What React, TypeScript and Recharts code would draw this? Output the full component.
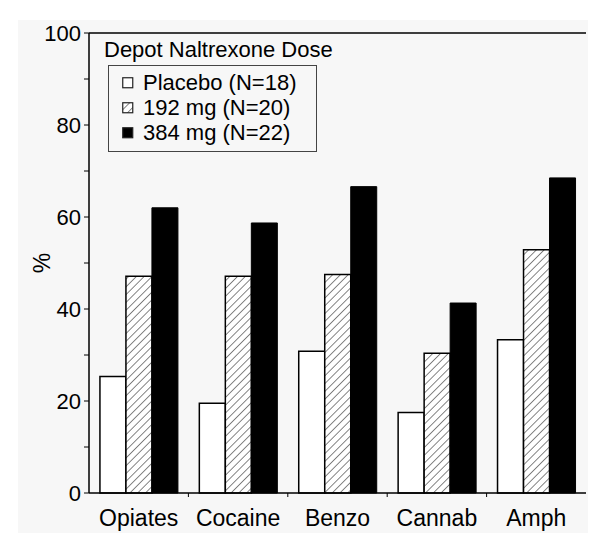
import React from "react";
import { Bar, BarChart, Legend, ReferenceLine, XAxis, YAxis } from "recharts";

const drugs = ["Opiates", "Cocaine", "Benzo", "Cannab", "Amph"];
const placebo = [25.3, 19.5, 30.8, 17.5, 33.3];
const mg192 = [47.1, 47.1, 47.5, 30.4, 52.9];
const mg384 = [62.0, 58.7, 66.6, 41.3, 68.5];
const yTicks = [0, 10, 20, 30, 40, 50, 60, 70, 80, 90, 100];
const seriesOrder = ["placebo", "mg192", "mg384"];

const data = drugs.map((drug, i) => ({
  drug,
  placebo: placebo[i],
  mg192: mg192[i],
  mg384: mg384[i],
}));

const FONT = "'Liberation Sans', Arial, sans-serif";

const XTick = (props: any) => {
  const { x, y, payload, index } = props;
  const half = payload?.offset ?? 0;
  return (
    <g>
      {index < drugs.length - 1 && (
        <line x1={x + half} x2={x + half} y1={y - 8} y2={y - 4} stroke="#000" />
      )}
      <text x={x} y={y + 25} textAnchor="middle" fontSize={23} fontFamily={FONT} fill="#000">
        {payload.value}
      </text>
    </g>
  );
};

const markerFill: Record<string, string> = {
  placebo: "#fff",
  mg192: "url(#hatch)",
  mg384: "#000",
};

const LegendBox = (props: any) => {
  const items = [...(props.payload || [])].sort(
    (a: any, b: any) => seriesOrder.indexOf(a.dataKey) - seriesOrder.indexOf(b.dataKey)
  );
  return (
    <div style={{ fontFamily: FONT, color: "#000" }}>
      <div style={{ fontSize: 22, lineHeight: "24px", whiteSpace: "nowrap" }}>Depot Naltrexone Dose</div>
      <div
        style={{
          marginTop: 3,
          marginLeft: 4,
          border: "1.5px solid #444",
          width: 209,
          padding: "4px 0 6px 13px",
          boxSizing: "border-box",
        }}
      >
        {items.map((it: any) => (
          <div key={it.dataKey} style={{ display: "flex", alignItems: "center", height: 25, fontSize: 22 }}>
            <svg width={12} height={12} style={{ marginRight: 9 }}>
              <rect x={0.75} y={0.75} width={10} height={10} fill={markerFill[it.dataKey]} stroke="#222" strokeWidth={1.2} />
            </svg>
            <span style={{ whiteSpace: "nowrap" }}>{it.value}</span>
          </div>
        ))}
      </div>
    </div>
  );
};

export default function App() {
  return (
    <div style={{ position: "absolute", left: 0, top: 0, width: 600, height: 550, background: "#fff" }}>
      <div style={{ position: "absolute", left: 18, top: 20, width: 570, height: 513, background: "#f7f7f7" }} />
      <div style={{ position: "absolute", left: 0, top: 0 }}>
        <BarChart
          width={600}
          height={550}
          data={data}
          margin={{ top: 33, right: 14, bottom: 17, left: 20 }}
          barCategoryGap="11%"
          barGap={0}
        >
          <defs>
            <pattern id="hatch" patternUnits="userSpaceOnUse" width={5.5} height={5.5} patternTransform="rotate(45)">
              <rect width={5.5} height={5.5} fill="#fff" />
              <line x1={0} y1={0} x2={0} y2={5.5} stroke="#222" strokeWidth={1.1} />
            </pattern>
          </defs>
          <XAxis
            dataKey="drug"
            height={40}
            tickLine={false}
            axisLine={{ stroke: "#000", strokeWidth: 1.5 }}
            tick={<XTick />}
            interval={0}
          />
          <YAxis
            width={69}
            domain={[0, 100]}
            ticks={yTicks}
            interval={0}
            tickSize={5}
            tickMargin={3}
            tickFormatter={(v: number) => (v % 20 === 0 ? String(v) : "")}
            axisLine={{ stroke: "#000", strokeWidth: 1.5 }}
            tickLine={{ stroke: "#000" }}
            tick={{ fill: "#000", fontSize: 22, fontFamily: FONT }}
            label={{
              value: "%",
              angle: -90,
              position: "insideLeft",
              dx: 17,
              style: { fill: "#000", fontSize: 23, fontFamily: FONT, textAnchor: "middle" },
            }}
          />
          <YAxis
            yAxisId="frame"
            orientation="right"
            width={0}
            domain={[0, 100]}
            tick={false}
            tickLine={false}
            axisLine={{ stroke: "#000", strokeWidth: 1.5 }}
          />
          <ReferenceLine y={100} stroke="#000" strokeWidth={1.5} />
          <Legend
            layout="vertical"
            align="center"
            verticalAlign="middle"
            content={<LegendBox />}
            wrapperStyle={{ left: 104, top: 38, width: 250, height: 130 }}
          />
          <Bar dataKey="placebo" name="Placebo (N=18)" fill="#fff" stroke="#000" strokeWidth={1.5} isAnimationActive={false} />
          <Bar dataKey="mg192" name="192 mg (N=20)" fill="url(#hatch)" stroke="#000" strokeWidth={1.5} isAnimationActive={false} />
          <Bar dataKey="mg384" name="384 mg (N=22)" fill="#000" stroke="#000" strokeWidth={1} isAnimationActive={false} />
        </BarChart>
      </div>
    </div>
  );
}
